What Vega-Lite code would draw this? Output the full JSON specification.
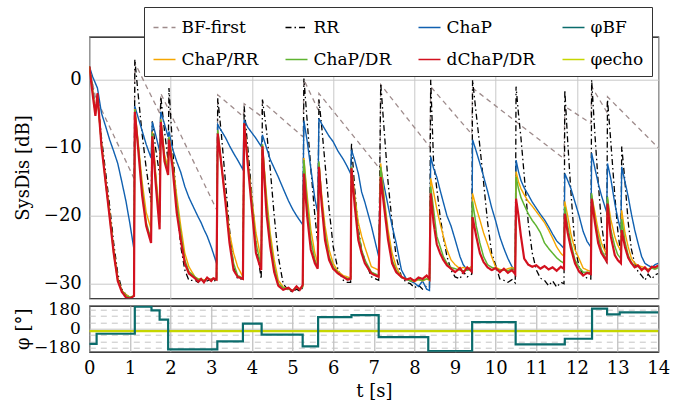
{
"$schema":"https://vega.github.io/schema/vega-lite/v6.json",
"autosize":{"type":"none"},
"padding":{"left":89.3,"top":36.7,"right":598.7,"bottom":368.3},
"background":"white",
"spacing":7,
"bounds":"flush",
"resolve":{"scale":{"color":"shared","strokeDash":"shared"}},
"datasets":{
"bf":[{"t":0,"bf":2},{"t":0.15,"bf":-2.5},{"t":1.1,"bf":-14.5},{"t":1.12,"bf":2.5},{"t":1.74,"bf":-5},{"t":1.76,"bf":-2},{"t":3.14,"bf":-19.2},{"t":3.16,"bf":-2.2},{"t":3.79,"bf":-5.4},{"t":3.81,"bf":-3.5},{"t":4.24,"bf":-5.4},{"t":4.26,"bf":-3.2},{"t":5.26,"bf":-8.4},{"t":5.28,"bf":0},{"t":5.63,"bf":-4.4},{"t":5.65,"bf":-2},{"t":7.15,"bf":-13.1},{"t":7.17,"bf":-0.7},{"t":8.38,"bf":-9.9},{"t":8.4,"bf":-1},{"t":9.41,"bf":-8},{"t":9.43,"bf":-1.2},{"t":11.68,"bf":-11.6},{"t":11.7,"bf":-3.9},{"t":12.34,"bf":-6.4},{"t":12.36,"bf":-1},{"t":12.73,"bf":-4.7},{"t":12.75,"bf":-2.5},{"t":14,"bf":-10}],
"top":[
{"t":0,"rr":2,"cp":2,"cr":2,"cd":2,"dd":2},
{"t":0.08,"rr":-1,"cp":0.5,"cr":-1.5,"cd":-1.5,"dd":-2},
{"t":0.15,"rr":-4.5,"cp":-0.5,"cr":-5,"cd":-5,"dd":-5.3},
{"t":0.2,"rr":-2.5,"cp":-1.2,"cr":-2.5,"cd":-2.5,"dd":-2},
{"t":0.3,"rr":-8.5,"cp":-4.9,"cr":-9.5,"cd":-9.5,"dd":-9.8},
{"t":0.4,"rr":-13.5,"cp":-6.8,"cr":-14.5,"cd":-15,"dd":-15},
{"t":0.5,"rr":-18.5,"cp":-8.8,"cr":-19.5,"cd":-20,"dd":-20.2},
{"t":0.6,"rr":-24,"cp":-10.5,"cr":-25,"cd":-25.5,"dd":-25.5},
{"t":0.7,"rr":-28.5,"cp":-12.3,"cr":-29.2,"cd":-29.5,"dd":-29.6},
{"t":0.8,"rr":-30.8,"cp":-15,"cr":-31,"cd":-31,"dd":-31.2},
{"t":0.9,"rr":-31.6,"cp":-17.8,"cr":-31.6,"cd":-31.8,"dd":-32},
{"t":1.0,"rr":-32,"cp":-21.2,"cr":-32,"cd":-32,"dd":-32.2},
{"t":1.1,"rr":-32,"cp":-25,"cr":-31.8,"cd":-31.8,"dd":-31.8},
{"t":1.12,"rr":3,"cp":-3.9,"cr":-4.3,"cd":-4.4,"dd":-4.7},
{"t":1.2,"rr":-2,"cp":-5.5,"cr":-9,"cd":-9.5,"dd":-10},
{"t":1.3,"rr":-8,"cp":-7.5,"cr":-15,"cd":-16,"dd":-17},
{"t":1.4,"rr":-13,"cp":-9.5,"cr":-19.5,"cd":-21,"dd":-21.5},
{"t":1.52,"rr":-18,"cp":-11.5,"cr":-22,"cd":-23.5,"dd":-24},
{"t":1.55,"rr":-6.1,"cp":-6.2,"cr":-7.6,"cd":-7.9,"dd":-8.3},
{"t":1.63,"rr":-10,"cp":-8,"cr":-13.5,"cd":-14,"dd":-15},
{"t":1.73,"rr":-14,"cp":-10.5,"cr":-20,"cd":-21,"dd":-22},
{"t":1.76,"rr":-2.5,"cp":-4.7,"cr":-5.8,"cd":-6,"dd":-6.2},
{"t":1.85,"rr":-7.5,"cp":-6.5,"cr":-11,"cd":-11.5,"dd":-12},
{"t":1.94,"rr":-12,"cp":-8.4,"cr":-13,"cd":-13.5,"dd":-14},
{"t":1.96,"rr":-1.2,"cp":-7.6,"cr":-8.5,"cd":-8.4,"dd":-8.8},
{"t":2.05,"rr":-10,"cp":-10.2,"cr":-12,"cd":-12.5,"dd":-13},
{"t":2.15,"rr":-18,"cp":-12,"cr":-17,"cd":-18,"dd":-19.5},
{"t":2.25,"rr":-24.5,"cp":-13.6,"cr":-21.5,"cd":-22.5,"dd":-23.5},
{"t":2.35,"rr":-28,"cp":-15.7,"cr":-25.5,"cd":-26.5,"dd":-27},
{"t":2.45,"rr":-29.5,"cp":-17.3,"cr":-27.5,"cd":-28.2,"dd":-28.5},
{"t":2.6,"rr":-29.5,"cp":-19.2,"cr":-29,"cd":-29,"dd":-29.2},
{"t":2.68,"rr":-29.8,"cp":-20.2,"cr":-29.3,"cd":-29.4,"dd":-29.7},
{"t":2.75,"rr":-29.4,"cp":-21,"cr":-29.3,"cd":-29.3,"dd":-29.3},
{"t":2.82,"rr":-29.7,"cp":-22,"cr":-29.5,"cd":-29.6,"dd":-29.8},
{"t":2.9,"rr":-29.6,"cp":-23,"cr":-29.2,"cd":-29.2,"dd":-29.1},
{"t":3.0,"rr":-29.3,"cp":-24.6,"cr":-29.4,"cd":-29.5,"dd":-29.6},
{"t":3.05,"rr":-29.6,"cp":-25.5,"cr":-29.3,"cd":-29.3,"dd":-29.2},
{"t":3.13,"rr":-29.5,"cp":-27,"cr":-29.3,"cd":-29.4,"dd":-29.4},
{"t":3.16,"rr":-2.7,"cp":-6.6,"cr":-7.6,"cd":-7.4,"dd":-7.9},
{"t":3.25,"rr":-8,"cp":-7.5,"cr":-12.5,"cd":-12.5,"dd":-12.5},
{"t":3.35,"rr":-15,"cp":-8.5,"cr":-17.5,"cd":-17.5,"dd":-18},
{"t":3.45,"rr":-22,"cp":-9.7,"cr":-22.5,"cd":-23.5,"dd":-24},
{"t":3.55,"rr":-27.5,"cp":-10.8,"cr":-25.5,"cd":-27,"dd":-28},
{"t":3.65,"rr":-29.3,"cp":-11.8,"cr":-27.5,"cd":-28.8,"dd":-29},
{"t":3.78,"rr":-29.3,"cp":-13.2,"cr":-29,"cd":-29.2,"dd":-29.3},
{"t":3.81,"rr":-3.9,"cp":-5.9,"cr":-6.5,"cd":-6.4,"dd":-6.4},
{"t":3.9,"rr":-10,"cp":-7,"cr":-12,"cd":-12,"dd":-12.5},
{"t":4.0,"rr":-17,"cp":-7.8,"cr":-17.5,"cd":-18,"dd":-19},
{"t":4.1,"rr":-24,"cp":-8.6,"cr":-22.5,"cd":-24,"dd":-25.5},
{"t":4.23,"rr":-29.3,"cp":-9.8,"cr":-26.5,"cd":-27.5,"dd":-28},
{"t":4.26,"rr":-2.9,"cp":-8.1,"cr":-9.5,"cd":-9.5,"dd":-9.8},
{"t":4.36,"rr":-7.4,"cp":-10,"cr":-17,"cd":-18,"dd":-19.7},
{"t":4.45,"rr":-13,"cp":-11.7,"cr":-22.5,"cd":-23.5,"dd":-24.5},
{"t":4.55,"rr":-20,"cp":-13,"cr":-26.5,"cd":-27.5,"dd":-28.3},
{"t":4.65,"rr":-26,"cp":-14.3,"cr":-29.5,"cd":-30,"dd":-30.3},
{"t":4.77,"rr":-30,"cp":-16,"cr":-30.5,"cd":-30.6,"dd":-30.9},
{"t":4.9,"rr":-31,"cp":-17.8,"cr":-30.8,"cd":-30.8,"dd":-30.6},
{"t":5.0,"rr":-31.2,"cp":-19,"cr":-31,"cd":-31,"dd":-31.1},
{"t":5.1,"rr":-30.8,"cp":-20,"cr":-30.5,"cd":-30.6,"dd":-30.4},
{"t":5.18,"rr":-31.1,"cp":-20.7,"cr":-30.7,"cd":-30.8,"dd":-30.9},
{"t":5.25,"rr":-30.6,"cp":-21.3,"cr":-30.4,"cd":-30.5,"dd":-30.2},
{"t":5.28,"rr":0.2,"cp":-6,"cr":-11.5,"cd":-11.8,"dd":-13.8},
{"t":5.36,"rr":-6,"cp":-9,"cr":-17,"cd":-18,"dd":-20},
{"t":5.45,"rr":-13,"cp":-13,"cr":-22,"cd":-23.5,"dd":-25},
{"t":5.55,"rr":-20,"cp":-17.5,"cr":-25.5,"cd":-26.5,"dd":-27},
{"t":5.62,"rr":-24,"cp":-19.5,"cr":-27,"cd":-27.5,"dd":-27.8},
{"t":5.65,"rr":-2.9,"cp":-5.7,"cr":-12.3,"cd":-12,"dd":-12.8},
{"t":5.72,"rr":-7,"cp":-6.5,"cr":-17,"cd":-18,"dd":-18.5},
{"t":5.8,"rr":-12.3,"cp":-7.3,"cr":-21.5,"cd":-22.5,"dd":-23.6},
{"t":5.9,"rr":-19,"cp":-8.3,"cr":-25,"cd":-26,"dd":-26.5},
{"t":6.0,"rr":-24.5,"cp":-9.1,"cr":-27,"cd":-27.5,"dd":-27.8},
{"t":6.12,"rr":-28,"cp":-10.5,"cr":-28.2,"cd":-28.4,"dd":-28.5},
{"t":6.25,"rr":-29.5,"cp":-11.7,"cr":-28.8,"cd":-29,"dd":-29},
{"t":6.35,"rr":-29.8,"cp":-12.8,"cr":-29,"cd":-29.2,"dd":-29.4},
{"t":6.43,"rr":-29.8,"cp":-13.8,"cr":-29.2,"cd":-29.3,"dd":-29.3},
{"t":6.45,"rr":-9.3,"cp":-10.3,"cr":-12.8,"cd":-12.8,"dd":-13},
{"t":6.53,"rr":-16,"cp":-11.8,"cr":-17,"cd":-17.5,"dd":-18.5},
{"t":6.62,"rr":-22,"cp":-13.8,"cr":-21,"cd":-22.5,"dd":-23.6},
{"t":6.7,"rr":-25,"cp":-16.5,"cr":-23,"cd":-25,"dd":-25.5},
{"t":6.78,"rr":-26.5,"cp":-18,"cr":-24.6,"cd":-26.5,"dd":-27},
{"t":6.94,"rr":-29,"cp":-21.5,"cr":-27.5,"cd":-28.3,"dd":-28.5},
{"t":7.12,"rr":-29.5,"cp":-26,"cr":-28,"cd":-28.8,"dd":-29},
{"t":7.17,"rr":-0.5,"cp":-13,"cr":-12.3,"cd":-12.8,"dd":-14.3},
{"t":7.25,"rr":-7,"cp":-15.5,"cr":-17,"cd":-17.5,"dd":-18.5},
{"t":7.35,"rr":-15,"cp":-18.5,"cr":-22,"cd":-23,"dd":-23.5},
{"t":7.45,"rr":-21,"cp":-21.5,"cr":-25.5,"cd":-26.5,"dd":-27},
{"t":7.55,"rr":-26,"cp":-24,"cr":-27.5,"cd":-28,"dd":-28.3},
{"t":7.68,"rr":-29,"cp":-28,"cr":-29,"cd":-29.1,"dd":-29},
{"t":7.8,"rr":-29.8,"cp":-29.3,"cr":-29.3,"cd":-29.3,"dd":-29.4},
{"t":7.9,"rr":-30,"cp":-29.6,"cr":-29.5,"cd":-29.6,"dd":-29.2},
{"t":8.0,"rr":-30.6,"cp":-29.9,"cr":-29.7,"cd":-29.5,"dd":-29.6},
{"t":8.1,"rr":-30.2,"cp":-30.4,"cr":-29.4,"cd":-29.4,"dd":-29.1},
{"t":8.2,"rr":-30.8,"cp":-29.6,"cr":-29.6,"cd":-29.5,"dd":-29.3},
{"t":8.3,"rr":-30.3,"cp":-30.8,"cr":-29.3,"cd":-29.3,"dd":-28.8},
{"t":8.37,"rr":-30.5,"cp":-31,"cr":-29.5,"cd":-29.4,"dd":-29.3},
{"t":8.4,"rr":0,"cp":-11.3,"cr":-14.5,"cd":-15.7,"dd":-16.7},
{"t":8.47,"rr":-12,"cp":-13,"cr":-16.5,"cd":-19,"dd":-21},
{"t":8.55,"rr":-16,"cp":-14.3,"cr":-19,"cd":-23,"dd":-24.2},
{"t":8.63,"rr":-20,"cp":-16.2,"cr":-21.1,"cd":-24.5,"dd":-25.5},
{"t":8.71,"rr":-23.1,"cp":-18,"cr":-23,"cd":-26,"dd":-26.5},
{"t":8.8,"rr":-26,"cp":-20,"cr":-25,"cd":-27,"dd":-27.3},
{"t":8.9,"rr":-28,"cp":-21.5,"cr":-26.5,"cd":-27.6,"dd":-27.8},
{"t":9.0,"rr":-29,"cp":-23.5,"cr":-27.2,"cd":-27.8,"dd":-28.3},
{"t":9.12,"rr":-29.3,"cp":-26,"cr":-27.8,"cd":-28,"dd":-27.7},
{"t":9.2,"rr":-28.2,"cp":-27.2,"cr":-27.6,"cd":-28.1,"dd":-28.4},
{"t":9.3,"rr":-29,"cp":-28,"cr":-27.8,"cd":-28,"dd":-27.6},
{"t":9.41,"rr":-28.6,"cp":-27.5,"cr":-27.5,"cd":-27.9,"dd":-28.2},
{"t":9.43,"rr":0,"cp":-8.8,"cr":-16.7,"cd":-17.9,"dd":-20.2},
{"t":9.52,"rr":-5,"cp":-10.5,"cr":-18.8,"cd":-21.5,"dd":-23},
{"t":9.61,"rr":-9.8,"cp":-12.3,"cr":-20.6,"cd":-24,"dd":-25.5},
{"t":9.7,"rr":-15,"cp":-14.2,"cr":-22.5,"cd":-26,"dd":-26.8},
{"t":9.8,"rr":-21,"cp":-16.4,"cr":-24.2,"cd":-27.2,"dd":-27.6},
{"t":9.9,"rr":-25.5,"cp":-18.8,"cr":-26,"cd":-27.6,"dd":-28},
{"t":10.0,"rr":-27.3,"cp":-20.8,"cr":-27.6,"cd":-27.8,"dd":-27.7},
{"t":10.1,"rr":-29.3,"cp":-23.1,"cr":-27.9,"cd":-28,"dd":-28.3},
{"t":10.2,"rr":-29.5,"cp":-24.8,"cr":-28,"cd":-28,"dd":-27.8},
{"t":10.3,"rr":-29.8,"cp":-26.3,"cr":-27.8,"cd":-28.1,"dd":-28.4},
{"t":10.4,"rr":-29.4,"cp":-27.5,"cr":-27.6,"cd":-27.8,"dd":-28},
{"t":10.48,"rr":-29.9,"cp":-28,"cr":-27.9,"cd":-28,"dd":-28.6},
{"t":10.5,"rr":-1,"cp":-11.8,"cr":-13.5,"cd":-14.3,"dd":-17.5},
{"t":10.56,"rr":-5,"cp":-13.5,"cr":-15,"cd":-16,"dd":-20},
{"t":10.62,"rr":-8.5,"cp":-14.8,"cr":-16,"cd":-17.3,"dd":-23},
{"t":10.7,"rr":-14,"cp":-15.9,"cr":-16.9,"cd":-18.4,"dd":-26.3},
{"t":10.8,"rr":-21,"cp":-16.9,"cr":-17.9,"cd":-19.7,"dd":-27.2},
{"t":10.9,"rr":-25.5,"cp":-18,"cr":-18.6,"cd":-20.7,"dd":-27.5},
{"t":11.0,"rr":-28,"cp":-18.9,"cr":-19.4,"cd":-21.5,"dd":-27.3},
{"t":11.1,"rr":-29.2,"cp":-19.8,"cr":-20.2,"cd":-22.5,"dd":-27.8},
{"t":11.2,"rr":-29.5,"cp":-20.6,"cr":-21,"cd":-24,"dd":-27.4},
{"t":11.3,"rr":-30.3,"cp":-21.6,"cr":-22.1,"cd":-24.8,"dd":-27.9},
{"t":11.4,"rr":-29.6,"cp":-22.7,"cr":-23.3,"cd":-25.5,"dd":-27.6},
{"t":11.5,"rr":-30.5,"cp":-23.7,"cr":-24.6,"cd":-26.2,"dd":-28.1},
{"t":11.6,"rr":-29.8,"cp":-24.3,"cr":-25.5,"cd":-26.7,"dd":-27.5},
{"t":11.68,"rr":-30,"cp":-24.8,"cr":-26,"cd":-27,"dd":-27.8},
{"t":11.7,"rr":-1.5,"cp":-13.8,"cr":-17.9,"cd":-18.7,"dd":-19.7},
{"t":11.77,"rr":-9,"cp":-14.8,"cr":-20,"cd":-21.5,"dd":-22.5},
{"t":11.85,"rr":-16.5,"cp":-16,"cr":-22.7,"cd":-24,"dd":-24.8},
{"t":11.95,"rr":-24.6,"cp":-18,"cr":-25,"cd":-26.5,"dd":-27},
{"t":12.05,"rr":-27.5,"cp":-20,"cr":-26.3,"cd":-27.6,"dd":-28.2},
{"t":12.15,"rr":-28.7,"cp":-22.3,"cr":-27.7,"cd":-28.3,"dd":-28.8},
{"t":12.25,"rr":-29.2,"cp":-23.8,"cr":-28,"cd":-28.3,"dd":-28.4},
{"t":12.34,"rr":-29.3,"cp":-24.6,"cr":-28.2,"cd":-28.4,"dd":-28.6},
{"t":12.36,"rr":0,"cp":-10.8,"cr":-17,"cd":-16.7,"dd":-17.5},
{"t":12.44,"rr":-8,"cp":-13,"cr":-19.5,"cd":-20.5,"dd":-21},
{"t":12.52,"rr":-15,"cp":-15.2,"cr":-22.1,"cd":-23,"dd":-24},
{"t":12.6,"rr":-21,"cp":-17,"cr":-24,"cd":-25,"dd":-25.5},
{"t":12.73,"rr":-27,"cp":-19.5,"cr":-25.8,"cd":-26.5,"dd":-26.7},
{"t":12.75,"rr":-2.9,"cp":-12.3,"cr":-17.5,"cd":-17.2,"dd":-18.2},
{"t":12.83,"rr":-9,"cp":-14.5,"cr":-20.5,"cd":-22,"dd":-23},
{"t":12.93,"rr":-17,"cp":-18.2,"cr":-23.1,"cd":-24.5,"dd":-25.8},
{"t":13.0,"rr":-22,"cp":-20.3,"cr":-24.3,"cd":-25.7,"dd":-26.5},
{"t":13.08,"rr":-26,"cp":-22.3,"cr":-25.2,"cd":-26.3,"dd":-27},
{"t":13.1,"rr":-9.8,"cp":-12.8,"cr":-19.2,"cd":-20.5,"dd":-22.1},
{"t":13.18,"rr":-15,"cp":-15,"cr":-22.5,"cd":-23.8,"dd":-24.6},
{"t":13.26,"rr":-21,"cp":-17.2,"cr":-24.6,"cd":-25.8,"dd":-26.2},
{"t":13.34,"rr":-25,"cp":-19.8,"cr":-26.3,"cd":-26.9,"dd":-27},
{"t":13.42,"rr":-27,"cp":-22.1,"cr":-27,"cd":-27.4,"dd":-27.6},
{"t":13.5,"rr":-28.2,"cp":-24,"cr":-27.3,"cd":-27.5,"dd":-27.3},
{"t":13.59,"rr":-28.8,"cp":-26,"cr":-27.5,"cd":-27.8,"dd":-28},
{"t":13.67,"rr":-29.5,"cp":-27,"cr":-27.6,"cd":-27.8,"dd":-27.6},
{"t":13.75,"rr":-28.6,"cp":-27.3,"cr":-27.9,"cd":-28,"dd":-28.2},
{"t":13.84,"rr":-29.3,"cp":-27.6,"cr":-27.6,"cd":-27.7,"dd":-27.5},
{"t":13.92,"rr":-28.7,"cp":-27.2,"cr":-27.7,"cd":-27.9,"dd":-27.6},
{"t":14.0,"rr":-28.5,"cp":-27,"cr":-27.4,"cd":-27.6,"dd":-27.3}
],
"phi":[{"t":0,"pbf":-141},{"t":0.18,"pbf":-47},{"t":1.12,"pbf":206},{"t":1.53,"pbf":172},{"t":1.73,"pbf":84},{"t":1.94,"pbf":-194},{"t":3.15,"pbf":-119},{"t":3.78,"pbf":47},{"t":4.24,"pbf":-56},{"t":5.25,"pbf":-166},{"t":5.63,"pbf":109},{"t":6.45,"pbf":127},{"t":7.12,"pbf":-79},{"t":8.34,"pbf":-210},{"t":9.42,"pbf":62},{"t":10.49,"pbf":-147},{"t":11.7,"pbf":-94},{"t":12.37,"pbf":187},{"t":12.74,"pbf":134},{"t":13.05,"pbf":153},{"t":14,"pbf":153}],
"pe":[{"t":0,"pe":-22},{"t":14,"pe":-22}]
},
"vconcat":[
{
"width":569,"height":261.6,
"encoding":{
"x":{"field":"t","type":"quantitative","scale":{"domain":[0,14],"nice":false},"axis":{"values":[0,2,4,6,8,10,12,14],"labels":false,"title":null,"grid":true}},
"y":{"field":"v","type":"quantitative","scale":{"domain":[-32.15,6.35],"nice":false,"zero":false},"axis":{"values":[-30,-20,-10,0],"title":"SysDis [dB]","titleX":-66,"titleY":130.8,"titleBaseline":"middle","labelPadding":8,"labelFlush":false,"grid":true}},
"color":{"field":"s","type":"nominal","scale":{"domain":["bf","rr","cp","pbf","cr","cd","dd","pe"],"range":["#9e8b8b","#000000","#1060b0","#0b6c6c","#f5a600","#5fb431","#d3111f","#c6d600"]},"legend":{"title":null,"orient":"none","legendX":54.7,"legendY":-29.7,"columns":4,"direction":"horizontal","labelExpr":"datum.value=='bf'?'BF-first':datum.value=='rr'?'RR':datum.value=='cp'?'ChaP':datum.value=='pbf'?'φBF':datum.value=='cr'?'ChaP/RR':datum.value=='cd'?'ChaP/DR':datum.value=='dd'?'dChaP/DR':'φecho'"}},
"strokeDash":{"field":"s","type":"nominal","scale":{"domain":["bf","rr","cp","pbf","cr","cd","dd","pe"],"range":[[5,4],[6,3,1.5,3],[1,0],[1,0],[1,0],[1,0],[1,0],[1,0]]},"legend":{"title":null,"orient":"none","legendX":54.7,"legendY":-29.7,"columns":4,"direction":"horizontal","labelExpr":"datum.value=='bf'?'BF-first':datum.value=='rr'?'RR':datum.value=='cp'?'ChaP':datum.value=='pbf'?'φBF':datum.value=='cr'?'ChaP/RR':datum.value=='cd'?'ChaP/DR':datum.value=='dd'?'dChaP/DR':'φecho'"}}
},
"layer":[
{"data":{"name":"bf"},"transform":[{"fold":["bf"],"as":["s","v"]}],"mark":{"type":"line","strokeWidth":1.3,"clip":true}},
{"data":{"name":"top"},"transform":[{"fold":["rr"],"as":["s","v"]}],"mark":{"type":"line","strokeWidth":1.3,"clip":true}},
{"data":{"name":"top"},"transform":[{"fold":["cp"],"as":["s","v"]}],"mark":{"type":"line","strokeWidth":1.4,"clip":true}},
{"data":{"name":"top"},"transform":[{"fold":["cr"],"as":["s","v"]}],"mark":{"type":"line","strokeWidth":1.4,"clip":true}},
{"data":{"name":"top"},"transform":[{"fold":["cd"],"as":["s","v"]}],"mark":{"type":"line","strokeWidth":1.5,"clip":true}},
{"data":{"name":"top"},"transform":[{"fold":["dd"],"as":["s","v"]}],"mark":{"type":"line","strokeWidth":2.2,"clip":true}}
]
},
{
"width":569,"height":46,
"encoding":{
"x":{"field":"t","type":"quantitative","scale":{"domain":[0,14],"nice":false},"axis":{"values":[0,1,2,3,4,5,6,7,8,9,10,11,12,13,14],"format":"d","grid":true,"gridColor":"#b0b0b0","title":"t [s]","titleY":40,"titleBaseline":"middle","labelPadding":8,"labelFlush":false}},
"y":{"field":"v","type":"quantitative","scale":{"domain":[-215,215],"nice":false,"zero":false},"axis":{"values":[-180,-120,-60,0,60,120,180],"labelExpr":"(datum.value==180||datum.value==-180||datum.value==0)?datum.label:''","labelOverlap":false,"labelFlush":false,"labelPadding":9,"labelFontSize":17,"grid":true,"gridColor":"#c4c4c4","gridDash":{"condition":{"test":"datum.value===0","value":[]},"value":[6,5]},"title":"φ [°]","titleX":-66,"titleY":23,"titleBaseline":"middle"}},
"color":{"field":"s","type":"nominal","scale":{"domain":["bf","rr","cp","pbf","cr","cd","dd","pe"],"range":["#9e8b8b","#000000","#1060b0","#0b6c6c","#f5a600","#5fb431","#d3111f","#c6d600"]},"legend":{"title":null,"orient":"none","legendX":54.7,"legendY":-29.7,"columns":4,"direction":"horizontal","labelExpr":"datum.value=='bf'?'BF-first':datum.value=='rr'?'RR':datum.value=='cp'?'ChaP':datum.value=='pbf'?'φBF':datum.value=='cr'?'ChaP/RR':datum.value=='cd'?'ChaP/DR':datum.value=='dd'?'dChaP/DR':'φecho'"}},
"strokeDash":{"field":"s","type":"nominal","scale":{"domain":["bf","rr","cp","pbf","cr","cd","dd","pe"],"range":[[5,4],[6,3,1.5,3],[1,0],[1,0],[1,0],[1,0],[1,0],[1,0]]},"legend":{"title":null,"orient":"none","legendX":54.7,"legendY":-29.7,"columns":4,"direction":"horizontal","labelExpr":"datum.value=='bf'?'BF-first':datum.value=='rr'?'RR':datum.value=='cp'?'ChaP':datum.value=='pbf'?'φBF':datum.value=='cr'?'ChaP/RR':datum.value=='cd'?'ChaP/DR':datum.value=='dd'?'dChaP/DR':'φecho'"}}
},
"layer":[
{"data":{"name":"pe"},"transform":[{"fold":["pe"],"as":["s","v"]}],"mark":{"type":"line","strokeWidth":2.2,"clip":true}},
{"data":{"name":"phi"},"transform":[{"fold":["pbf"],"as":["s","v"]}],"mark":{"type":"line","interpolate":"step-after","strokeWidth":2.2,"clip":true}}
]
}
],
"config":{
"font":"DejaVu Serif",
"view":{"stroke":"#000","strokeWidth":1.1},
"line":{"strokeCap":"butt"},
"axis":{"labelFont":"DejaVu Serif","titleFont":"DejaVu Serif","labelFontSize":18,"titleFontSize":18,"labelColor":"#000","titleColor":"#000","titleFontWeight":"normal","domain":false,"ticks":false,"gridColor":"#c8c8c8","gridWidth":1,"gridOpacity":1},
"legend":{"gridAlign":"each","columnPadding":23,"rowPadding":12,"padding":8.5,"strokeColor":"#333","fillColor":"#fff","labelFont":"DejaVu Serif","labelFontSize":17,"labelColor":"#000","labelOffset":5,"symbolType":"stroke","symbolSize":484,"symbolStrokeWidth":1.6,"labelLimit":0}
}
}
